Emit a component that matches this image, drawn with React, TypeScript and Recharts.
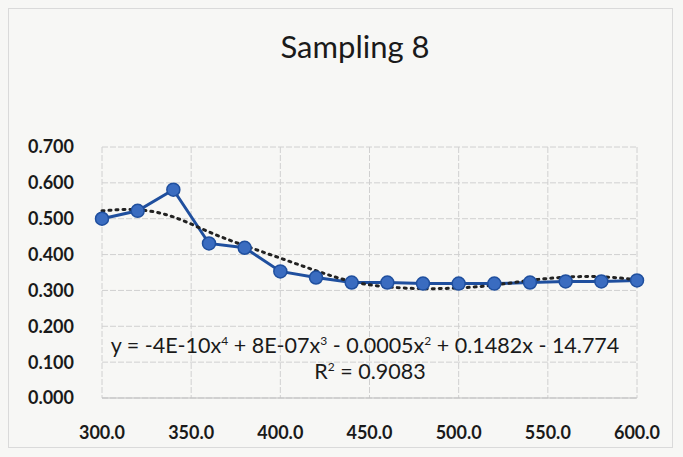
import React from "react";
import { LineChart, Line, XAxis, YAxis, CartesianGrid } from "recharts";

const xValues = [300, 320, 340, 360, 380, 400, 420, 440, 460, 480, 500, 520, 540, 560, 580, 600];
const samplingValues = [0.5, 0.522, 0.581, 0.431, 0.419, 0.353, 0.336, 0.322, 0.322, 0.319, 0.319, 0.319, 0.322, 0.325, 0.325, 0.328];
const trendValues = [0.522, 0.525, 0.505, 0.463, 0.425, 0.39, 0.355, 0.325, 0.31, 0.305, 0.307, 0.315, 0.328, 0.337, 0.338, 0.33];
const xTicks = [300, 350, 400, 450, 500, 550, 600];
const yTicks = [0, 0.1, 0.2, 0.3, 0.4, 0.5, 0.6, 0.7];
const title = "Sampling 8";

const data = xValues.map((x, i) => ({ x, sampling: samplingValues[i], trend: trendValues[i] }));

const font = "Lato, 'Open Sans', sans-serif";

export default function App() {
  return (
    <div style={{ position: "absolute", left: 0, top: 0, width: 683, height: 457, background: "#f7f7f5", fontFamily: font }}>
      <div style={{ position: "absolute", left: 8, top: 8, width: 665, height: 440, border: "1px solid #dadada", boxSizing: "border-box" }} />
      <div style={{ position: "absolute", left: 0, top: 28, width: 710, textAlign: "center", fontSize: 31, color: "#1a1a1a", lineHeight: "36px" }}>{title}</div>
      <LineChart width={683} height={457} data={data} margin={{ top: 147, right: 46, bottom: 9, left: 0 }}>
        <CartesianGrid stroke="#d0d0d0" strokeDasharray="6 2" vertical={true} horizontal={true} />
        <XAxis
          dataKey="x"
          type="number"
          domain={[300, 600]}
          ticks={xTicks}
          tickFormatter={(v: number) => v.toFixed(1)}
          tickLine={false}
          axisLine={{ stroke: "#bdbdbd" }}
          tick={{ fill: "#1a1a1a", fontSize: 18, fontWeight: 700, fontFamily: font }}
          tickMargin={22}
          height={50}
        />
        <YAxis
          type="number"
          domain={[0, 0.7]}
          ticks={yTicks}
          tickFormatter={(v: number) => v.toFixed(3)}
          tickLine={false}
          axisLine={false}
          tick={{ fill: "#1a1a1a", fontSize: 18, fontWeight: 700, fontFamily: font }}
          tickMargin={22}
          width={102}
          interval={0}
        />
        <Line
          dataKey="sampling"
          type="linear"
          stroke="#1f4f9e"
          strokeWidth={3}
          dot={{ r: 6.5, fill: "#3a6cc0", stroke: "#1f4f9e", strokeWidth: 1.5 }}
          isAnimationActive={false}
        />
        <Line
          dataKey="trend"
          type="natural"
          stroke="#222"
          strokeWidth={3}
          strokeDasharray="2 5"
          strokeLinecap="round"
          dot={false}
          isAnimationActive={false}
        />
      </LineChart>
      <div style={{ position: "absolute", left: 105, top: 328, width: 520, textAlign: "center", fontSize: 21.5, color: "#1a1a1a", whiteSpace: "nowrap", lineHeight: "26px" }}>
        y = -4E-10x<sup style={{ fontSize: 12 }}>4</sup> + 8E-07x<sup style={{ fontSize: 12 }}>3</sup> - 0.0005x<sup style={{ fontSize: 12 }}>2</sup> + 0.1482x - 14.774
      </div>
      <div style={{ position: "absolute", left: 105, top: 354, width: 530, textAlign: "center", fontSize: 21.5, color: "#1a1a1a", lineHeight: "26px" }}>
        R<sup style={{ fontSize: 12 }}>2</sup> = 0.9083
      </div>
    </div>
  );
}
